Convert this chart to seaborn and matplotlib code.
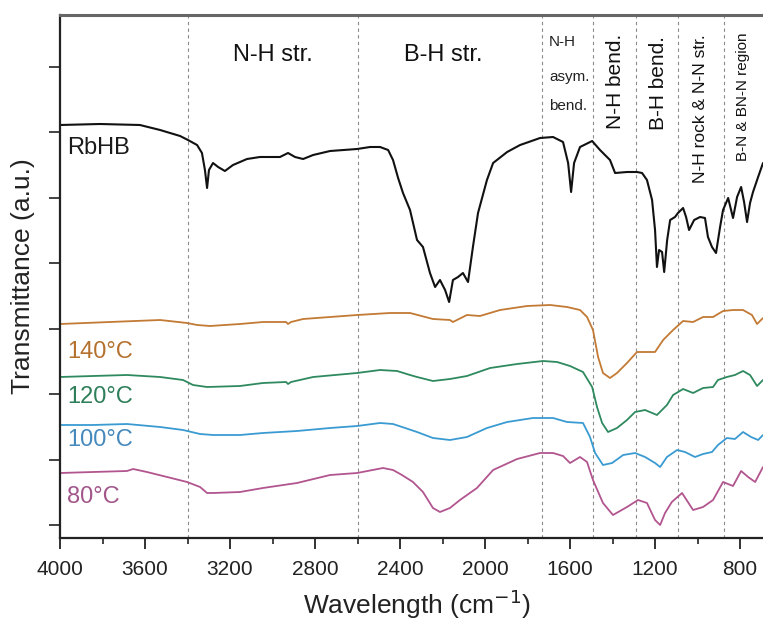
import matplotlib
matplotlib.use("Agg")
import matplotlib.pyplot as plt
import seaborn as sns
import pandas as pd
from matplotlib.ticker import MultipleLocator

# ---------------- data (wavenumber cm-1, transmittance a.u.) ----------------
rbhb_wn = [4000, 3812, 3624, 3529, 3435, 3398, 3355, 3332, 3318, 3308, 3299, 3280, 3256, 3224, 3186,
           3120, 3059, 2965, 2927, 2894, 2856, 2809, 2729, 2602, 2541, 2494, 2456, 2433, 2409, 2386,
           2353, 2320, 2292, 2259, 2235, 2212, 2188, 2169, 2151, 2127, 2104, 2080, 2057, 2033, 1991,
           1962, 1896, 1835, 1741, 1680, 1633, 1609, 1595, 1581, 1553, 1496, 1459, 1412, 1388, 1332,
           1285, 1261, 1238, 1214, 1200, 1191, 1181, 1167, 1157, 1143, 1129, 1106, 1092, 1068, 1054,
           1040, 1016, 988, 965, 951, 932, 913, 894, 880, 856, 833, 814, 795, 781, 767,
           753, 739, 715, 692]
rbhb_t = [4.13, 4.14, 4.13, 4.08, 4.02, 3.98, 3.93, 3.85, 3.68, 3.50, 3.68, 3.75, 3.71, 3.67, 3.73,
          3.79, 3.81, 3.81, 3.85, 3.81, 3.79, 3.83, 3.87, 3.89, 3.91, 3.91, 3.88, 3.78, 3.60, 3.45,
          3.28, 2.98, 2.91, 2.65, 2.51, 2.58, 2.48, 2.36, 2.58, 2.61, 2.65, 2.56, 2.91, 3.25, 3.58,
          3.75, 3.86, 3.93, 4.00, 4.01, 3.96, 3.75, 3.46, 3.75, 3.91, 3.97, 3.88, 3.78, 3.65, 3.66,
          3.66, 3.65, 3.58, 3.38, 3.08, 2.71, 2.88, 2.86, 2.66, 2.98, 3.18, 3.21, 3.25, 3.30, 3.21,
          3.08, 3.18, 3.21, 3.20, 3.01, 2.91, 2.85, 3.11, 3.28, 3.40, 3.20, 3.41, 3.51, 3.36, 3.16,
          3.35, 3.46, 3.61, 3.75]

t140_wn = [4000, 3765, 3529, 3402, 3355, 3294, 3153, 3045, 2936, 2927, 2913, 2856, 2729, 2602, 2447,
           2353, 2245, 2165, 2151, 2085, 2024, 1929, 1802, 1694, 1614, 1553, 1520, 1492, 1468, 1445,
           1412, 1379, 1332, 1285, 1238, 1200, 1162, 1115, 1068, 1021, 974, 927, 880, 833, 786,
           744, 720, 692]
t140_t = [2.14, 2.16, 2.18, 2.15, 2.13, 2.12, 2.14, 2.16, 2.16, 2.14, 2.16, 2.19, 2.21, 2.23, 2.25,
          2.25, 2.19, 2.18, 2.16, 2.23, 2.22, 2.28, 2.32, 2.33, 2.31, 2.28, 2.21, 2.08, 1.81, 1.65,
          1.60, 1.65, 1.75, 1.86, 1.86, 1.86, 1.98, 2.08, 2.17, 2.16, 2.21, 2.21, 2.27, 2.28, 2.28,
          2.23, 2.14, 2.20]

t120_wn = [4000, 3845, 3685, 3529, 3421, 3374, 3308, 3153, 3045, 2936, 2927, 2913, 2809, 2602, 2494,
           2414, 2353, 2320, 2245, 2165, 2085, 1976, 1849, 1727, 1661, 1600, 1539, 1496, 1473, 1449,
           1421, 1379, 1332, 1294, 1247, 1191, 1144, 1115, 1068, 1021, 974, 927, 904, 862, 824,
           786, 753, 720, 692]
t120_t = [1.61, 1.62, 1.63, 1.61, 1.58, 1.53, 1.51, 1.52, 1.55, 1.56, 1.54, 1.56, 1.61, 1.65, 1.68,
          1.67, 1.63, 1.61, 1.57, 1.59, 1.62, 1.70, 1.74, 1.77, 1.76, 1.72, 1.66, 1.51, 1.31, 1.15,
          1.06, 1.10, 1.18, 1.26, 1.28, 1.23, 1.33, 1.43, 1.49, 1.45, 1.50, 1.51, 1.58, 1.61, 1.63,
          1.67, 1.63, 1.52, 1.58]

t100_wn = [4000, 3845, 3685, 3529, 3421, 3341, 3280, 3153, 3045, 2885, 2729, 2602, 2494, 2433, 2376,
           2320, 2245, 2165, 2085, 1991, 1896, 1774, 1680, 1614, 1539, 1506, 1482, 1445, 1402, 1350,
           1294, 1247, 1200, 1176, 1144, 1096, 1059, 1012, 974, 932, 904, 862, 824, 786, 748,
           715, 692]
t100_t = [1.13, 1.13, 1.14, 1.11, 1.08, 1.04, 1.03, 1.03, 1.05, 1.07, 1.10, 1.12, 1.15, 1.14, 1.10,
          1.06, 1.00, 0.98, 1.01, 1.10, 1.16, 1.20, 1.20, 1.16, 1.15, 1.01, 0.85, 0.73, 0.75, 0.83,
          0.85, 0.81, 0.75, 0.71, 0.81, 0.88, 0.86, 0.81, 0.84, 0.86, 0.93, 1.00, 0.99, 1.06, 1.01,
          0.98, 1.03]

t80_wn = [4000, 3845, 3685, 3656, 3591, 3496, 3402, 3341, 3308, 3280, 3153, 3045, 2885, 2729, 2602,
          2480, 2433, 2391, 2339, 2292, 2245, 2212, 2165, 2118, 2038, 1962, 1849, 1741, 1680, 1633,
          1600, 1553, 1520, 1492, 1445, 1398, 1332, 1280, 1238, 1200, 1176, 1153, 1121, 1073, 1021,
          974, 927, 880, 833, 795, 762, 729, 692]
t80_t = [0.65, 0.66, 0.67, 0.69, 0.66, 0.61, 0.56, 0.51, 0.45, 0.45, 0.46, 0.50, 0.55, 0.63, 0.65,
         0.70, 0.68, 0.63, 0.56, 0.46, 0.30, 0.26, 0.30, 0.38, 0.50, 0.68, 0.79, 0.85, 0.85, 0.82,
         0.75, 0.81, 0.76, 0.58, 0.35, 0.23, 0.31, 0.38, 0.35, 0.18, 0.13, 0.25, 0.36, 0.45, 0.28,
         0.31, 0.38, 0.56, 0.52, 0.67, 0.61, 0.56, 0.71]

series_names = ["RbHB", "140°C", "120°C", "100°C", "80°C"]
series_wn = [rbhb_wn, t140_wn, t120_wn, t100_wn, t80_wn]
series_t = [rbhb_t, t140_t, t120_t, t100_t, t80_t]
line_colors = ["#111111", "#C27A34", "#2E8A5E", "#3A9BD2", "#B2558F"]
label_colors = ["#1a1a1a", "#B5722F", "#2E7F5A", "#4689BD", "#A2568A"]
label_t = [3.90, 1.86, 1.41, 0.98, 0.41]

band_positions = [3400, 2600, 1730, 1490, 1290, 1090, 875]
x_ticks = [4000, 3600, 3200, 2800, 2400, 2000, 1600, 1200, 800]

# ---------------- plotting ----------------
sns.set_theme(style="ticks")
plt.rcParams["font.family"] = ["Liberation Sans", "DejaVu Sans"]

fig = plt.figure(figsize=(7.63, 6.21), dpi=100)
ax = fig.add_axes([60 / 763, 1 - 538 / 621, 703 / 763, 523 / 621])

frames = []
for name, wn, tt in zip(series_names, series_wn, series_t):
    frames.append(pd.DataFrame({"wn": wn, "t": tt, "sample": name}))
df = pd.concat(frames, ignore_index=True)

for name, col in zip(series_names, line_colors):
    sub = df[df["sample"] == name]
    sns.lineplot(data=sub, x="wn", y="t", color=col, lw=1.5 if name == "RbHB" else 1.3,
                 sort=False, estimator=None, ax=ax, legend=False)

for xv in band_positions:
    ax.axvline(xv, color="#8a8a8a", lw=0.8, ls=(0, (3, 3)), zorder=0)

ax.set_xlim(4000, 692)
ax.set_ylim(0, 5.23)
ax.xaxis.set_major_locator(plt.FixedLocator(x_ticks))
ax.xaxis.set_minor_locator(MultipleLocator(200))
ax.set_yticks([0.13 + 0.655 * k for k in range(8)])
ax.set_yticklabels([])
ax.tick_params(axis="x", which="major", length=8, width=1.3, labelsize=15, pad=8, colors="#222")
ax.tick_params(axis="x", which="minor", length=4.5, width=1.2, colors="#222")
ax.tick_params(axis="y", which="major", length=8, width=1.2, colors="#222")

for side in ["left", "bottom"]:
    ax.spines[side].set_linewidth(1.6)
    ax.spines[side].set_color("#222")
ax.spines["top"].set_linewidth(2.2)
ax.spines["top"].set_color("#666")
ax.spines["right"].set_visible(False)

ax.set_xlabel("Wavelength (cm$^{-1}$)", fontsize=19, color="#222")
ax.set_ylabel("Transmittance (a.u.)", fontsize=19, color="#222")
ax.xaxis.set_label_coords(0.508, -0.095)
ax.yaxis.set_label_coords(-0.035, 0.5)

for name, yv, col in zip(series_names, label_t, label_colors):
    ax.text(3968, yv, name, color=col, fontsize=17, ha="left", va="center")

ax.text(3000, 4.83, "N-H str.", fontsize=17, ha="center", va="center", color="#111")
ax.text(2198, 4.83, "B-H str.", fontsize=17, ha="center", va="center", color="#111")
for txt, yv in zip(["N-H", "asym.", "bend."], [4.96, 4.61, 4.32]):
    ax.text(1699, yv, txt, fontsize=11, ha="left", va="center", color="#222")
ax.text(1388, 4.57, "N-H bend.", fontsize=15, rotation=90, ha="center", va="center", color="#111")
ax.text(1186, 4.55, "B-H bend.", fontsize=15, rotation=90, ha="center", va="center", color="#111")
ax.text(988, 4.29, "N-H rock & N-N str.", fontsize=12.5, rotation=90, ha="center", va="center", color="#111")
ax.text(786, 4.41, "B-N & BN-N region", fontsize=11, rotation=90, ha="center", va="center", color="#111")

fig.savefig("out.png", dpi=100)
